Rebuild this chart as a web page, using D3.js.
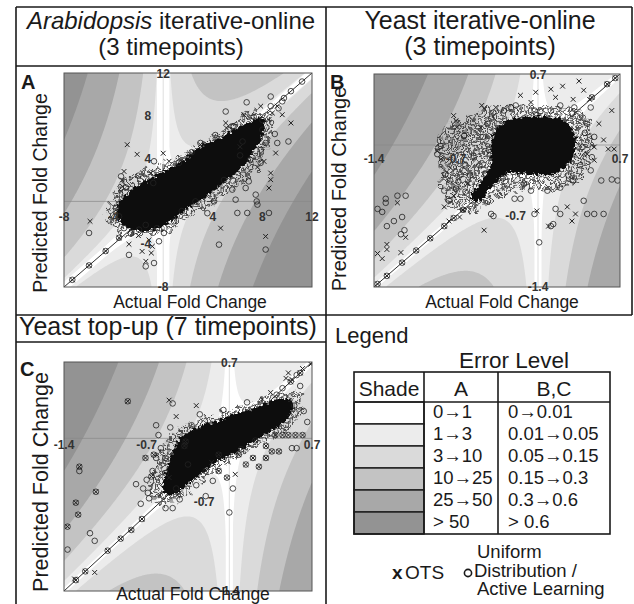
<!DOCTYPE html>
<html>
<head>
<meta charset="utf-8">
<script src="https://cdn.jsdelivr.net/npm/d3@7"></script>
<style>
  body { margin: 0; background: #fff; }
  text { font-family: 'Liberation Sans', Arial, sans-serif; }
</style>
</head>
<body>
<svg id="fig" width="634" height="604"></svg>
<script>
// shading levels (lightest -> darkest) and error bands
const shadeColors = ['#ffffff', '#ececec', '#dadada', '#c3c3c3', '#a8a8a8', '#939393']
const levelsA = [1, 3, 10, 25, 50]
const levelsBC = [0.01, 0.05, 0.15, 0.3, 0.6]
const labelsA = ['0\u21921', '1\u21923', '3\u219210', '10\u219225', '25\u219250', '> 50']
const labelsBC = ['0\u21920.01', '0.01\u21920.05', '0.05\u21920.15', '0.15\u21920.3', '0.3\u21920.6', '> 0.6']

// tick labels
const aXLabels = [-8, -4, 4, 8, 12]
const aYLabels = [12, 8, 4, -4, -8]
const bcXLabels = [-1.4, -0.7, 0.7]
const bcYLabels = [0.7, -0.7, -1.4]

// Panel A: [actual, predicted]
const aCore = [[-3.7,-1.1],[-3.3,0.0],[-2.6,0.8],[-1.55,1.7],[0.06,2.65],[1.14,3.3],[2.2,4.2],[3.3,5.15],[4.6,5.8],[6.0,6.7],[7.05,7.3],[7.9,7.7],[8.0,6.6],[7.05,4.5],[6.0,3.0],[4.6,1.7],[3.3,0.5],[1.95,-0.46],[0.6,-1.7],[-0.47,-2.33],[-1.8,-2.64],[-2.9,-2.33]]
const aFringe = [[-4.6,-1.5],[-4.2,0.2],[-3.5,1.6],[-2.2,2.6],[-0.5,3.4],[1.2,4.1],[2.8,5.2],[4.2,6.3],[5.5,7.4],[6.8,8.3],[8.0,8.6],[8.8,8.0],[8.9,6.5],[8.2,4.5],[7.2,2.6],[5.8,1.2],[4.3,0.0],[2.8,-1.0],[1.2,-2.3],[-0.3,-3.0],[-2.0,-3.2],[-3.4,-2.8]]
const aOts = [[-2.9,5.3],[-2.1,4.4],[0.0,4.5],[-1.0,2.65],[0.47,3.75],[-3.16,2.8],[-3.3,2.0],[-3.3,1.4],[-3.4,0.94],[-5.9,-1.86],[-2.76,-4.0],[-1.7,-4.67],[-0.96,-4.82],[-0.88,-4.2],[-1.4,-5.6],[-1.15,-3.6],[4.63,-2.5],[8.26,-3.27],[5.04,7.33],[6.5,8.1],[8.8,8.26],[9.6,8.1],[10.3,7.33],[8.53,7.64],[9.2,8.9],[7.86,8.9],[8.67,2.65],[8.53,1.25],[8.67,2.03],[9.07,4.52],[8.13,3.74],[3.0,5.3],[5.1,6.86],[-2.0,-3.2],[7.6,3.2],[6.2,5.1]]
const aUniform = [[-5.98,-2.95],[-2.76,-5.0],[-1.41,-6.07],[-0.74,-5.76],[-0.34,-3.73],[4.5,-4.04],[5.98,-1.08],[6.78,-1.08],[8.26,-4.5],[7.54,0.0],[7.6,-0.3],[8.53,-1.08],[7.46,0.63],[10.1,5.6],[9.2,5.46],[6.73,9.26],[5.04,8.4],[5.7,7.0],[8.67,8.9],[9.3,8.7],[9.6,9.35],[8.67,9.8],[10.3,10.3],[9.74,9.66],[-0.8,1.72],[-3.4,2.34],[-3.56,-1.4],[-0.74,3.75],[1.27,3.6],[3.0,5.46],[5.6,7.0],[6.4,5.6],[7.86,4.83],[8.26,5.46],[7.86,3.6],[6.9,1.87],[6.65,1.25],[5.57,1.1],[4.1,0.0],[3.56,-1.1],[5.84,0.16],[0.87,-1.86],[0.06,-2.95],[-1.41,-2.2],[-1.95,-2.64],[-3.16,-2.5],[-3.8,-0.6],[-3.0,1.3],[-2.0,2.4],[2.3,4.6],[4.2,6.2],[7.3,7.9],[8.0,6.7],[7.0,3.9],[4.9,2.0],[2.6,0.0],[1.5,-0.9],[-0.5,-2.5],[-2.6,-3.0],[11.2,11.2],[8.0,7.6],[9.0,6.3],[6.2,4.3]]
const aDiagonal = [[-7.33,-7.33],[-5.98,-5.98],[-4.64,-4.64],[-3.56,-3.4]]

// Panel B
const bCore = [[-0.35,0.14],[-0.26,0.22],[-0.12,0.26],[0.08,0.26],[0.22,0.23],[0.3,0.1],[0.3,-0.08],[0.21,-0.22],[0.08,-0.28],[-0.09,-0.27],[-0.23,-0.25],[-0.34,-0.32],[-0.42,-0.42],[-0.51,-0.54],[-0.56,-0.52],[-0.47,-0.36],[-0.39,-0.2],[-0.39,0.0]]
const bFringe = [[-0.85,0.08],[-0.68,0.24],[-0.45,0.36],[-0.1,0.39],[0.25,0.38],[0.42,0.3],[0.46,0.1],[0.44,-0.18],[0.36,-0.36],[0.15,-0.45],[-0.15,-0.44],[-0.4,-0.56],[-0.6,-0.66],[-0.74,-0.62],[-0.8,-0.45],[-0.85,-0.2]]
const bOts = [[-0.72,0.29],[-0.7,0.24],[-0.69,0.18],[-0.48,0.39],[-0.46,0.36],[-0.36,0.37],[-0.15,0.49],[-0.06,0.42],[-0.02,0.52],[0.11,0.55],[0.21,0.58],[0.35,0.63],[0.39,0.54],[0.44,0.45],[0.52,0.21],[0.63,0.34],[0.65,-0.04],[0.48,-0.02],[0.42,-0.09],[0.48,-0.15],[-0.83,-0.14],[-0.8,-0.61],[-0.67,-0.71],[-0.76,-0.75],[-0.46,-0.84],[0.09,-0.8],[-0.01,-0.65],[0.25,-0.61],[0.29,-0.75],[0.32,-0.68],[-0.49,0.17],[-0.86,-0.06],[-1.2,-0.57],[-1.13,-0.91],[-1.29,-1.03],[-1.29,-0.98],[-1.37,-1.07],[-1.33,-1.12],[-1.17,-1.06],[0.56,0.05],[0.6,-0.04],[-0.6,-0.38],[-0.72,-0.5],[0.3,0.45],[0.15,0.47]]
const bUniform = [[-0.63,0.09],[-0.83,-0.01],[-0.86,-0.09],[-0.79,-0.29],[-0.75,-0.35],[-0.66,-0.29],[-0.7,-0.43],[-0.76,-0.55],[-0.8,-0.45],[-0.55,-0.11],[-0.5,-0.2],[-0.45,-0.28],[-0.62,-0.2],[-0.58,-0.3],[-0.68,-0.36],[-0.62,-0.46],[-0.72,-0.22],[-1.37,-0.63],[-1.3,-0.53],[-1.3,-0.57],[-1.2,-0.5],[-1.13,-0.5],[-1.33,-0.66],[-1.23,-0.75],[-1.29,-0.8],[-1.16,-0.71],[-1.14,-0.84],[-1.17,-0.88],[0.42,0.21],[0.48,0.08],[0.46,-0.12],[0.45,-0.25],[0.54,-0.35],[0.63,-0.34],[0.68,-0.35],[0.39,-0.55],[0.48,-0.68],[0.56,-0.68],[0.42,-0.68],[0.15,-0.63],[0.19,-0.68],[0.01,-0.96],[0.11,-0.8],[0.13,-0.78],[-0.4,-0.68],[-0.38,-0.7],[-0.2,-0.53],[-0.15,-0.53],[-0.03,-0.68],[0.19,-0.42],[0.08,-0.45],[-0.06,-0.45],[0.3,-0.35],[-0.12,-0.38],[-0.29,0.34],[-0.23,0.37],[-0.19,0.39],[-0.38,0.32],[-0.03,0.34],[0.02,0.33],[0.11,0.34],[0.19,0.39],[0.31,0.37],[0.36,0.27],[0.45,0.37],[0.29,0.31],[-0.4,0.26],[-0.43,0.21],[0.4,0.12],[0.38,-0.02],[0.36,-0.2],[0.26,-0.3],[-0.3,-0.33],[-0.42,-0.05],[-0.47,0.08]]
const bDiagonal = [[-1.37,-1.37],[-1.29,-1.29],[-1.16,-1.16],[-1.04,-1.04],[-0.92,-0.92],[-0.8,-0.8],[-0.72,-0.72],[-0.64,-0.64],[0.46,0.47],[0.59,0.6],[0.66,0.66]]

// Panel C
const cCore = [[-0.42,-0.03],[-0.26,0.09],[-0.09,0.15],[0.08,0.22],[0.25,0.28],[0.39,0.34],[0.5,0.35],[0.53,0.29],[0.45,0.15],[0.31,0.06],[0.17,-0.03],[0.03,-0.12],[-0.12,-0.21],[-0.23,-0.3],[-0.34,-0.39],[-0.45,-0.49],[-0.54,-0.49],[-0.54,-0.36],[-0.48,-0.18]]
const cFringe = [[-0.62,-0.2],[-0.5,0.02],[-0.3,0.16],[-0.05,0.24],[0.2,0.33],[0.45,0.42],[0.6,0.42],[0.62,0.3],[0.55,0.12],[0.35,-0.02],[0.15,-0.12],[-0.05,-0.25],[-0.25,-0.4],[-0.45,-0.58],[-0.62,-0.6],[-0.68,-0.42]]
const cOts = [[-0.51,0.35],[-0.51,-0.36],[-0.59,-0.52],[-0.44,-0.52],[0.48,0.55],[0.5,0.6],[0.53,0.54],[0.69,0.68],[0.62,0.64],[-1.14,-1.23],[-1.31,-1.29],[-0.45,0.2],[-0.28,0.3],[0.05,-0.33],[-0.15,-0.22],[0.28,0.36],[0.35,0.42]]
const cUniform = [[-1.18,-0.87],[-1.14,-0.94],[-1.37,-1.02],[-0.48,0.32],[-0.58,-0.09],[-0.62,-0.18],[-0.54,-0.18],[-0.65,-0.3],[-0.54,-0.32],[-0.45,-0.46],[-0.54,-0.64],[-0.48,-0.64],[-0.2,-0.53],[-0.42,-0.56],[0.0,-0.68],[0.03,-0.46],[-0.14,-0.39],[-0.73,-0.46],[-0.69,-0.5],[-0.79,-0.42],[-0.68,-0.55],[0.57,0.58],[0.6,0.48],[0.63,0.25],[0.53,-0.09],[0.57,-0.09],[-1.27,-0.3],[-0.6,0.03],[-0.5,0.1],[-0.62,0.12],[-0.28,-0.43],[0.4,0.4],[0.45,0.46],[0.55,0.3],[0.66,0.15],[-0.25,0.22],[-0.05,0.26],[0.15,0.33],[-0.32,0.12],[0.1,-0.1],[-0.35,-0.24],[-0.75,-0.6],[-0.7,-0.38]]
const cBoth = [[-1.37,-0.81],[-1.28,-0.7],[-1.3,-0.59],[-1.13,-0.49],[-0.86,0.34],[-0.38,-0.07],[-0.37,-0.03],[-0.09,-0.15],[-0.2,-0.3],[-0.09,-0.3],[0.08,-0.15],[0.2,-0.18],[0.25,-0.26],[0.31,-0.18],[0.36,-0.12],[0.39,0.03],[0.45,0.03],[0.5,0.03],[0.56,0.03],[0.62,0.03],[0.31,-0.07],[0.42,-0.12],[-0.71,-0.18],[-0.64,-0.15],[-0.66,-0.35],[-1.27,-0.26],[0.14,-0.24],[-0.02,-0.36],[0.22,-0.02]]
const cDiagonal = [[-1.3,-1.3],[-1.22,-1.22],[-1.03,-1.03],[-0.92,-0.92],[-0.83,-0.84],[-0.74,-0.74],[0.52,0.52],[0.6,0.6]]

const svg = d3.select('#fig')
const ink = '#1a1a1a'
const defs = svg.append('defs')

// roughen outlines of the dense point cloud
function roughFilter(id, freq, scale, seed) {
  const f = defs.append('filter').attr('id', id)
    .attr('x', '-15%').attr('y', '-15%').attr('width', '130%').attr('height', '130%')
  f.append('feTurbulence').attr('type', 'fractalNoise').attr('baseFrequency', freq)
    .attr('numOctaves', 2).attr('seed', seed).attr('result', 'noise')
  f.append('feDisplacementMap').attr('in', 'SourceGraphic').attr('in2', 'noise')
    .attr('scale', scale).attr('xChannelSelector', 'R').attr('yChannelSelector', 'G')
}
roughFilter('rough', 0.3, 8, 3)
roughFilter('roughFringe', 0.12, 16, 7)

// overlapping open circles for the half-dense fringe
const rings = defs.append('pattern').attr('id', 'rings')
  .attr('patternUnits', 'userSpaceOnUse').attr('width', 9).attr('height', 8)
rings.selectAll('circle').data([[0, 0], [9, 0], [0, 8], [9, 8], [4.5, 4]]).join('circle')
  .attr('cx', d => d[0]).attr('cy', d => d[1]).attr('r', 2.7)
  .attr('fill', 'none').attr('stroke', '#222').attr('stroke-width', 0.8)

function drawPanel(p) {
  const x = d3.scaleLinear().domain(p.domain).range([p.left, p.right])
  const y = d3.scaleLinear().domain(p.domain).range([p.bottom, p.top])
  const w = p.right - p.left, h = p.bottom - p.top
  const [d0, d1] = p.domain

  svg.append('clipPath').attr('id', 'clip' + p.letter)
    .append('rect').attr('x', p.left).attr('y', p.top).attr('width', w).attr('height', h)
  const g = svg.append('g').attr('clip-path', `url(#clip${p.letter})`)

  // error-level shading: |actual| * |predicted - actual|
  const n = 220
  const grid = new Array(n * n)
  for (let j = 0; j < n; j++) {
    for (let i = 0; i < n; i++) {
      const a = d0 + (i + 0.5) / n * (d1 - d0)
      const q = d1 - (j + 0.5) / n * (d1 - d0)
      grid[j * n + i] = p.k * Math.abs(q - a) * Math.abs(a)
    }
  }
  const contours = d3.contours().size([n, n]).thresholds([0, ...p.levels])(grid)
  const proj = d3.geoTransform({
    point(px, py) { this.stream.point(p.left + px / n * w, p.top + py / n * h) }
  })
  g.selectAll('path.shade').data(contours).join('path')
    .attr('class', 'shade')
    .attr('d', d3.geoPath(proj))
    .attr('fill', (d, i) => shadeColors[i])

  // zero-error strips left by the gridded surface
  const hw = p.stripe / 2
  g.append('path')
    .attr('d', d3.line()([[x(d0), y(d0 - hw)], [x(d1), y(d1 - hw)], [x(d1), y(d1 + hw)], [x(d0), y(d0 + hw)]]) + 'Z')
    .attr('fill', '#fff')
  g.append('rect').attr('x', x(-hw)).attr('width', x(hw) - x(-hw)).attr('y', p.top).attr('height', h)
    .attr('fill', '#fff')

  // zero lines
  g.append('line').attr('x1', p.left).attr('x2', p.right).attr('y1', y(0)).attr('y2', y(0))
    .attr('stroke', '#8a8a8a').attr('stroke-width', 0.7)
  g.append('line').attr('x1', x(0)).attr('x2', x(0)).attr('y1', p.top).attr('y2', p.bottom)
    .attr('stroke', '#c8c8c8').attr('stroke-width', 0.6)

  const pts = svg.append('g').attr('clip-path', `url(#clip${p.letter})`)
  // diagonal
  pts.append('line').attr('x1', x(d0)).attr('y1', y(d0)).attr('x2', x(d1)).attr('y2', y(d1))
    .attr('stroke', '#333').attr('stroke-width', 1)

  const hull = d3.line().x(d => x(d[0])).y(d => y(d[1])).curve(d3.curveCatmullRomClosed)
  // half-dense fringe of overlapping points
  pts.append('path').datum(p.fringe).attr('d', hull)
    .attr('fill', 'url(#rings)').attr('filter', 'url(#roughFringe)')
  // dense core of points
  pts.append('path').datum(p.core).attr('d', hull)
    .attr('fill', '#111').attr('stroke', '#111').attr('stroke-width', 3).attr('stroke-linejoin', 'round')
    .attr('filter', 'url(#rough)')

  const circles = p.uniform.concat(p.both, p.diagonal)
  const crosses = p.ots.concat(p.both, p.diagonal)
  pts.selectAll('circle.u').data(circles).join('circle').attr('class', 'u')
    .attr('cx', d => x(d[0])).attr('cy', d => y(d[1])).attr('r', 2.8)
    .attr('fill', 'none').attr('stroke', '#222').attr('stroke-width', 0.8)
  pts.selectAll('path.o').data(crosses).join('path').attr('class', 'o')
    .attr('transform', d => `translate(${x(d[0])},${y(d[1])})`)
    .attr('d', 'M-2.4,-2.4L2.4,2.4M-2.4,2.4L2.4,-2.4')
    .attr('stroke', '#222').attr('stroke-width', 1)

  svg.append('rect').attr('x', p.left).attr('y', p.top).attr('width', w).attr('height', h)
    .attr('fill', 'none').attr('stroke', '#555').attr('stroke-width', 1)

  // tick labels, on top of the points
  const yMax = d3.max(p.yLabels), yMin = d3.min(p.yLabels)
  svg.selectAll('text.xl' + p.letter).data(p.xLabels).join('text').attr('class', 'xl' + p.letter)
    .attr('x', d => x(d)).attr('y', y(0) + p.xLabelDy)
    .attr('text-anchor', 'middle').attr('font-size', 12).attr('font-weight', 'bold')
    .attr('fill', '#333').text(d => d)
  svg.selectAll('text.yl' + p.letter).data(p.yLabels).join('text').attr('class', 'yl' + p.letter)
    .attr('x', d => (d === yMax || d === yMin) ? x(0) : x(0) - p.yLabelDx)
    .attr('y', d => d === yMax ? p.top + 5 : d === yMin ? p.bottom + 4 : y(d) + 4 + p.yLabelDy)
    .attr('text-anchor', d => (d === yMax || d === yMin) ? 'middle' : 'end')
    .attr('font-size', 12).attr('font-weight', 'bold').attr('fill', '#333').text(d => d)

  // panel letter + axis titles
  svg.append('text').attr('x', p.letterX).attr('y', p.letterY)
    .attr('font-size', 20).attr('font-weight', 'bold').attr('fill', ink).text(p.letter)
  svg.append('text')
    .attr('transform', `translate(${p.yTitleX},${p.yTitleY}) rotate(-90)`)
    .attr('text-anchor', 'middle').attr('font-size', p.yTitleSize).attr('fill', ink)
    .text('Predicted Fold Change')
  svg.append('text').attr('x', p.xTitleX).attr('y', p.xTitleY)
    .attr('text-anchor', 'middle').attr('font-size', 17.5).attr('fill', ink)
    .text('Actual Fold Change')
}

drawPanel({
  letter: 'A', domain: [-8, 12], left: 64, right: 312, top: 73, bottom: 287,
  levels: levelsA, k: 0.455, stripe: 1.0, core: aCore, fringe: aFringe,
  ots: aOts, uniform: aUniform, both: [], diagonal: aDiagonal,
  xLabels: aXLabels, yLabels: aYLabels, xLabelDy: 20, yLabelDx: 12, yLabelDy: 0,
  letterX: 21, letterY: 89, yTitleX: 47, yTitleY: 193, yTitleSize: 19.5, xTitleX: 190, xTitleY: 308
})
drawPanel({
  letter: 'B', domain: [-1.4, 0.7], left: 374, right: 620, top: 74, bottom: 287,
  levels: levelsBC, k: 0.39, stripe: 0.06, core: bCore, fringe: bFringe,
  ots: bOts, uniform: bUniform, both: [], diagonal: bDiagonal,
  xLabels: bcXLabels, yLabels: bcYLabels, xLabelDy: 18, yLabelDx: 12, yLabelDy: 0,
  letterX: 330, letterY: 89, yTitleX: 346, yTitleY: 189, yTitleSize: 20, xTitleX: 502, xTitleY: 308
})
drawPanel({
  letter: 'C', domain: [-1.4, 0.7], left: 64, right: 312, top: 362, bottom: 591,
  levels: levelsBC, k: 0.39, stripe: 0.06, core: cCore, fringe: cFringe,
  ots: cOts, uniform: cUniform, both: cBoth, diagonal: cDiagonal,
  xLabels: bcXLabels, yLabels: bcYLabels, xLabelDy: 11, yLabelDx: 15, yLabelDy: -13,
  letterX: 20, letterY: 376, yTitleX: 48, yTitleY: 482, yTitleSize: 21.5, xTitleX: 193, xTitleY: 600
})

// panel titles
const tA = svg.append('text').attr('x', 171).attr('y', 29).attr('text-anchor', 'middle')
  .attr('font-size', 24).attr('fill', ink)
tA.append('tspan').attr('font-style', 'italic').text('Arabidopsis')
tA.append('tspan').text(' iterative-online')
svg.append('text').attr('x', 171).attr('y', 55).attr('text-anchor', 'middle')
  .attr('font-size', 24).attr('fill', ink).text('(3 timepoints)')
svg.append('text').attr('x', 480).attr('y', 29).attr('text-anchor', 'middle')
  .attr('font-size', 25).attr('fill', ink).text('Yeast iterative-online')
svg.append('text').attr('x', 480).attr('y', 55).attr('text-anchor', 'middle')
  .attr('font-size', 25).attr('fill', ink).text('(3 timepoints)')
svg.append('text').attr('x', 168).attr('y', 335).attr('text-anchor', 'middle')
  .attr('font-size', 25).attr('fill', ink).text('Yeast top-up (7 timepoints)')

// frame lines
const frame = [
  [16, 7, 632, 7], [16, 7, 16, 604], [632, 7, 632, 315], [326, 7, 326, 604],
  [16, 66, 632, 66], [16, 315, 632, 315], [16, 342, 326, 342]
]
svg.selectAll('line.frame').data(frame).join('line').attr('class', 'frame')
  .attr('x1', d => d[0]).attr('y1', d => d[1]).attr('x2', d => d[2]).attr('y2', d => d[3])
  .attr('stroke', ink).attr('stroke-width', 1.6)

// legend
svg.append('text').attr('x', 335).attr('y', 343).attr('font-size', 22).attr('fill', ink).text('Legend')
svg.append('text').attr('x', 514).attr('y', 368).attr('text-anchor', 'middle')
  .attr('font-size', 22.5).attr('fill', ink).text('Error Level')

const tx0 = 354, tx1 = 424, tx2 = 498, tx3 = 610
const ty0 = 372, tyHead = 402, rowH = 22
const rowY = d3.range(shadeColors.length).map(i => tyHead + i * rowH)
const leg = svg.append('g')
leg.selectAll('rect.sh').data(shadeColors).join('rect').attr('class', 'sh')
  .attr('x', tx0).attr('y', (d, i) => rowY[i]).attr('width', tx1 - tx0).attr('height', rowH)
  .attr('fill', d => d).attr('stroke', ink).attr('stroke-width', 1.4)
leg.append('rect').attr('x', tx0).attr('y', ty0).attr('width', tx3 - tx0).attr('height', tyHead + 6 * rowH - ty0)
  .attr('fill', 'none').attr('stroke', ink).attr('stroke-width', 1.6)
leg.append('line').attr('x1', tx0).attr('x2', tx3).attr('y1', tyHead).attr('y2', tyHead)
  .attr('stroke', ink).attr('stroke-width', 1.6)
leg.selectAll('line.col').data([tx1, tx2]).join('line').attr('class', 'col')
  .attr('x1', d => d).attr('x2', d => d).attr('y1', ty0).attr('y2', tyHead + 6 * rowH)
  .attr('stroke', ink).attr('stroke-width', 1.6)
leg.append('text').attr('x', (tx0 + tx1) / 2).attr('y', 396).attr('text-anchor', 'middle')
  .attr('font-size', 21).attr('fill', ink).text('Shade')
leg.append('text').attr('x', (tx1 + tx2) / 2).attr('y', 396).attr('text-anchor', 'middle')
  .attr('font-size', 21).attr('fill', ink).text('A')
leg.append('text').attr('x', (tx2 + tx3) / 2).attr('y', 396).attr('text-anchor', 'middle')
  .attr('font-size', 21).attr('fill', ink).text('B,C')
leg.selectAll('text.la').data(labelsA).join('text').attr('class', 'la')
  .attr('x', tx1 + 9).attr('y', (d, i) => rowY[i] + 16).attr('font-size', 18.5).attr('fill', ink).text(d => d)
leg.selectAll('text.lb').data(labelsBC).join('text').attr('class', 'lb')
  .attr('x', tx2 + 10).attr('y', (d, i) => rowY[i] + 16).attr('font-size', 18.5).attr('fill', ink).text(d => d)

// marker key
svg.append('text').attr('x', 392).attr('y', 579).attr('font-size', 19).attr('font-weight', 'bold')
  .attr('fill', ink).text('x')
svg.append('text').attr('x', 405).attr('y', 579).attr('font-size', 19).attr('fill', ink).text('OTS')
svg.append('circle').attr('cx', 468).attr('cy', 573).attr('r', 3.6)
  .attr('fill', 'none').attr('stroke', ink).attr('stroke-width', 1.6)
const keyLines = ['Uniform', 'Distribution /', 'Active Learning']
svg.selectAll('text.key').data(keyLines).join('text').attr('class', 'key')
  .attr('x', (d, i) => i === 1 ? 474 : 477).attr('y', (d, i) => 558 + i * 18.5)
  .attr('font-size', 18.5).attr('fill', ink).text(d => d)
</script>
</body>
</html>
